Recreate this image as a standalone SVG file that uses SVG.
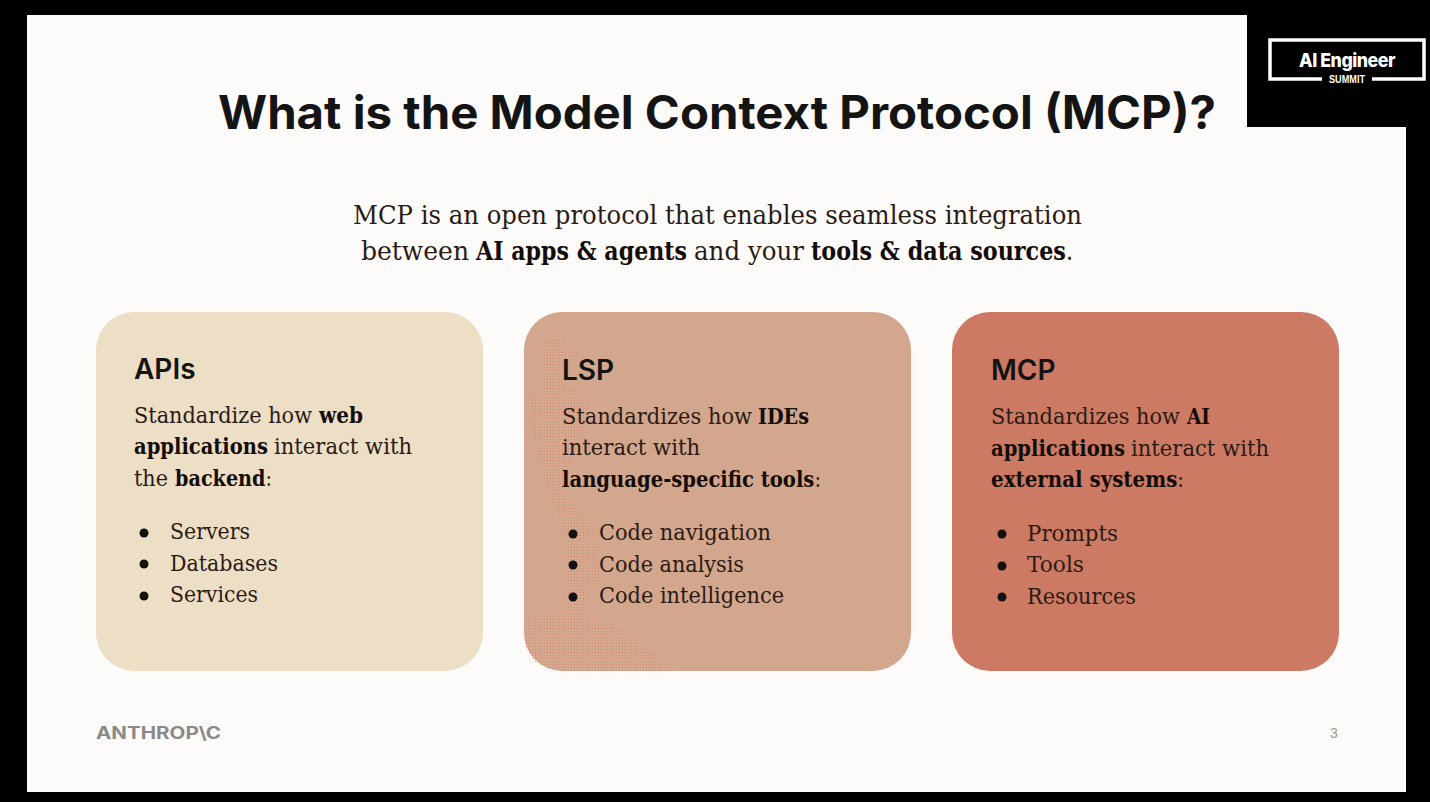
<svg xmlns="http://www.w3.org/2000/svg" width="1430" height="802" viewBox="0 0 1430 802">
<defs>
<style>
.h{font-family:"Inter","Open Sans","Liberation Sans",sans-serif;font-weight:700;fill:#141414}
.b{font-family:"DejaVu Serif","Liberation Serif",serif;font-size:23px;fill:#2b1a14}
.i{font-size:26px}
.s{font-weight:700;fill:#140c08}
.n{font-weight:400;fill:#2b1a14}
.d{fill:#111}
.card{stroke:none}
</style>
<pattern id="dots" width="3" height="3" patternUnits="userSpaceOnUse"><rect x="1" y="1" width="1" height="1" fill="#e0806a"/><rect x="2.5" y="2.5" width="0.5" height="0.5" fill="#efd8c8"/></pattern>
</defs>
<rect width="1430" height="802" fill="#000"/>
<path d="M27 15H1247V127H1406V792H27Z" fill="#fcfbf9"/>
<g id="logo">
<path d="M1322 79H1270V40H1424V79H1372" fill="none" stroke="#fff" stroke-width="3.5"/>
<text x="1347" y="67" text-anchor="middle" textLength="96" lengthAdjust="spacingAndGlyphs" font-family="Inter,'Liberation Sans',sans-serif" font-size="19" font-weight="800" fill="#fff" letter-spacing="-0.5">AI Engineer</text>
<text x="1347" y="83" text-anchor="middle" textLength="36" lengthAdjust="spacingAndGlyphs" font-family="'Liberation Sans',sans-serif" font-size="10" font-weight="700" fill="#fff">SUMMIT</text>
</g>
<text id="title" class="h" x="717" y="129" text-anchor="middle" font-size="46" textLength="998" lengthAdjust="spacingAndGlyphs">What is the Model Context Protocol (MCP)?</text>
<g id="intro">
<text class="b i" x="353" y="224" textLength="729" lengthAdjust="spacingAndGlyphs">MCP is an open protocol that enables seamless integration</text>
<text class="b i" x="361" y="260" textLength="108" lengthAdjust="spacingAndGlyphs">between</text>
<text class="b i s" x="476" y="260" textLength="211" lengthAdjust="spacingAndGlyphs">AI apps &amp; agents</text>
<text class="b i" x="694" y="260" textLength="110" lengthAdjust="spacingAndGlyphs">and your</text>
<text class="b i s" x="811" y="260" textLength="262" lengthAdjust="spacingAndGlyphs">tools &amp; data sources<tspan class="n">.</tspan></text>
</g>
<g id="card-apis">
<rect class="card" x="96" y="312" width="387" height="359" rx="38" fill="#ecdfc6"/>
<text class="h" x="134" y="379" font-size="28" style="font-weight:600">APIs</text>
<text class="b" x="134" y="423" textLength="178" lengthAdjust="spacingAndGlyphs">Standardize how</text>
<text class="b s" x="319" y="423" textLength="44" lengthAdjust="spacingAndGlyphs">web</text>
<text class="b s" x="134" y="454" textLength="134" lengthAdjust="spacingAndGlyphs">applications</text>
<text class="b" x="274" y="454" textLength="138" lengthAdjust="spacingAndGlyphs">interact with</text>
<text class="b" x="134" y="486" textLength="34" lengthAdjust="spacingAndGlyphs">the</text>
<text class="b s" x="175" y="486" textLength="97" lengthAdjust="spacingAndGlyphs">backend<tspan class="n">:</tspan></text>
<circle class="d" cx="144" cy="533" r="4.5"/><circle class="d" cx="144" cy="564" r="4.5"/><circle class="d" cx="144" cy="596" r="4.5"/>
<text class="b" x="170" y="539" textLength="80" lengthAdjust="spacingAndGlyphs">Servers</text>
<text class="b" x="170" y="571" textLength="108" lengthAdjust="spacingAndGlyphs">Databases</text>
<text class="b" x="170" y="602" textLength="88" lengthAdjust="spacingAndGlyphs">Services</text>
</g>
<g id="card-lsp">
<rect class="card" x="524" y="312" width="387" height="359" rx="38" fill="#d3a78d"/>
<path d="M542 345Q548 338 560 338Q572 342 578 353L563 360L560 380L577 393L590 407L578 440L563 493L593 527L600 577L590 593L582 617L620 630L677 671H562Q528 668 524 640L530 620L565 612L563 533L540 467L533 433L530 400L542 385Z" fill="url(#dots)" opacity="0.8"/>
<text class="h" x="562" y="380" font-size="28" style="font-weight:600">LSP</text>
<text class="b" x="562" y="424" textLength="190" lengthAdjust="spacingAndGlyphs">Standardizes how</text>
<text class="b s" x="758" y="424" textLength="51" lengthAdjust="spacingAndGlyphs">IDEs</text>
<text class="b" x="562" y="455" textLength="138" lengthAdjust="spacingAndGlyphs">interact with</text>
<text class="b s" x="562" y="487" textLength="259" lengthAdjust="spacingAndGlyphs">language-specific tools<tspan class="n">:</tspan></text>
<circle class="d" cx="573" cy="534" r="4.5"/><circle class="d" cx="573" cy="565" r="4.5"/><circle class="d" cx="573" cy="597" r="4.5"/>
<text class="b" x="599" y="540" textLength="172" lengthAdjust="spacingAndGlyphs">Code navigation</text>
<text class="b" x="599" y="572" textLength="145" lengthAdjust="spacingAndGlyphs">Code analysis</text>
<text class="b" x="599" y="603" textLength="185" lengthAdjust="spacingAndGlyphs">Code intelligence</text>
</g>
<g id="card-mcp">
<rect class="card" x="952" y="312" width="387" height="359" rx="38" fill="#cc7a63"/>
<text class="h" x="991" y="380" font-size="28" style="font-weight:600">MCP</text>
<text class="b" x="991" y="424" textLength="189" lengthAdjust="spacingAndGlyphs">Standardizes how</text>
<text class="b s" x="1187" y="424" textLength="23" lengthAdjust="spacingAndGlyphs">AI</text>
<text class="b s" x="991" y="456" textLength="134" lengthAdjust="spacingAndGlyphs">applications</text>
<text class="b" x="1131" y="456" textLength="138" lengthAdjust="spacingAndGlyphs">interact with</text>
<text class="b s" x="991" y="487" textLength="193" lengthAdjust="spacingAndGlyphs">external systems<tspan class="n">:</tspan></text>
<circle class="d" cx="1002" cy="534" r="4.5"/><circle class="d" cx="1002" cy="566" r="4.5"/><circle class="d" cx="1002" cy="597" r="4.5"/>
<text class="b" x="1027" y="541" textLength="91" lengthAdjust="spacingAndGlyphs">Prompts</text>
<text class="b" x="1027" y="572" textLength="57" lengthAdjust="spacingAndGlyphs">Tools</text>
<text class="b" x="1027" y="604" textLength="109" lengthAdjust="spacingAndGlyphs">Resources</text>
</g>
<g id="connectors"/>
<text id="brand" x="96" y="739" font-family="Inter,'Liberation Sans',sans-serif" font-weight="700" font-size="17" fill="#8a8a88" textLength="125" lengthAdjust="spacingAndGlyphs">ANTHROP\C</text>
<text id="page" x="1334" y="738" text-anchor="middle" font-family="'Liberation Sans',sans-serif" font-size="14" fill="#9a9a98">3</text>
</svg>
